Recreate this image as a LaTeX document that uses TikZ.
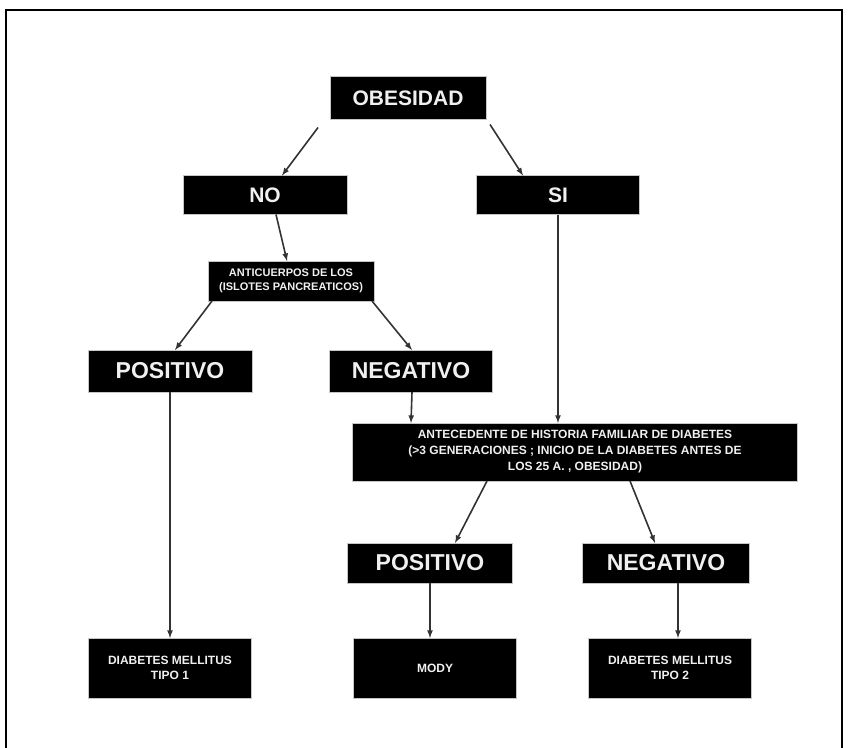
\documentclass[tikz,border=0pt]{standalone}
\usepackage{fontspec}
\setmainfont{Liberation Sans}
\usepackage{tikz}

\begin{document}
\begin{tikzpicture}[x=1pt,y=-1pt]
\tikzset{ >=latex, inner sep=0pt, outer sep=0pt,
  box/.style={fill=black, draw=gray!45, line width=1pt, text=gray!12, align=center},
  bigtxt/.style={box, font=\fontsize{21}{24}\selectfont\bfseries},
  midtxt/.style={box, font=\fontsize{23}{26}\selectfont\bfseries},
  smalltxt/.style={box, font=\fontsize{11}{14}\selectfont\bfseries},
  endtxt/.style={box, font=\fontsize{12}{15}\selectfont\bfseries, minimum width=163, minimum height=60},
  conn/.style={->, draw=black!80, line width=1.6pt},
}

\useasboundingbox (0,0) rectangle (848,747);
\draw [line width=2pt] (6,760) -- (6,10) -- (842,10) -- (842,760);

\node [bigtxt, minimum width=156, minimum height=43] (obesidad) at (408,98) {OBESIDAD};

\node [bigtxt, minimum width=164, minimum height=39] (no) at (265,195) {NO};
\node [bigtxt, minimum width=163, minimum height=39] (si) at (558,195) {SI};

\node [smalltxt, minimum width=166, minimum height=40] (anticuerpos) at (291,281)
  {ANTICUERPOS DE LOS\\(ISLOTES PANCREATICOS)};

\node [midtxt, minimum width=164, minimum height=42] (posA) at (170,371) {POSITIVO};
\node [midtxt, minimum width=163, minimum height=42] (negA) at (411,371) {NEGATIVO};

\node [box, font=\fontsize{12}{16}\selectfont\bfseries, minimum width=445, minimum height=58] (historia) at (575,452)
  {ANTECEDENTE DE HISTORIA FAMILIAR DE DIABETES\\
   (>3 GENERACIONES ; INICIO DE LA DIABETES ANTES DE\\
   LOS 25 A. , OBESIDAD)};

\node [midtxt, minimum width=165, minimum height=40] (posB) at (430,563) {POSITIVO};
\node [midtxt, minimum width=167, minimum height=40] (negB) at (666,563) {NEGATIVO};

\node [endtxt] (dm1) at (170,668) {DIABETES MELLITUS\\TIPO 1};
\node [endtxt] (mody) at (435,668) {MODY};
\node [endtxt] (dm2) at (670,668) {DIABETES MELLITUS\\TIPO 2};

\draw [conn] ([xshift=-12pt,yshift=-8pt]obesidad.south west) -- ([xshift=17pt]no.north);
\draw [conn] ([xshift=4pt,yshift=-5pt]obesidad.south east) -- ([xshift=-35pt]si.north);

\draw [conn] ([xshift=11pt]no.south) -- ([xshift=-4pt]anticuerpos.north);
\draw [conn] ([xshift=4pt]anticuerpos.south west) -- ([xshift=5pt]posA.north);
\draw [conn] ([xshift=-2pt]anticuerpos.south east) -- ([xshift=1pt]negA.north);

\draw [conn] ([xshift=1pt]negA.south) -- (negA.south |- historia.north);
\draw [conn] (si.south) -- (si.south |- historia.north);

\draw [conn] ([xshift=-88pt]historia.south) -- ([xshift=25pt]posB.north);
\draw [conn] ([xshift=55pt]historia.south) -- ([xshift=-11pt]negB.north);

\draw [conn] (posA.south) -- (posA.south |- dm1.north);
\draw [conn] (posB.south) -- (posB.south |- mody.north);
\draw [conn] ([xshift=12pt]negB.south) -- ([xshift=12pt]negB.south |- dm2.north);

\end{tikzpicture}
\end{document}
